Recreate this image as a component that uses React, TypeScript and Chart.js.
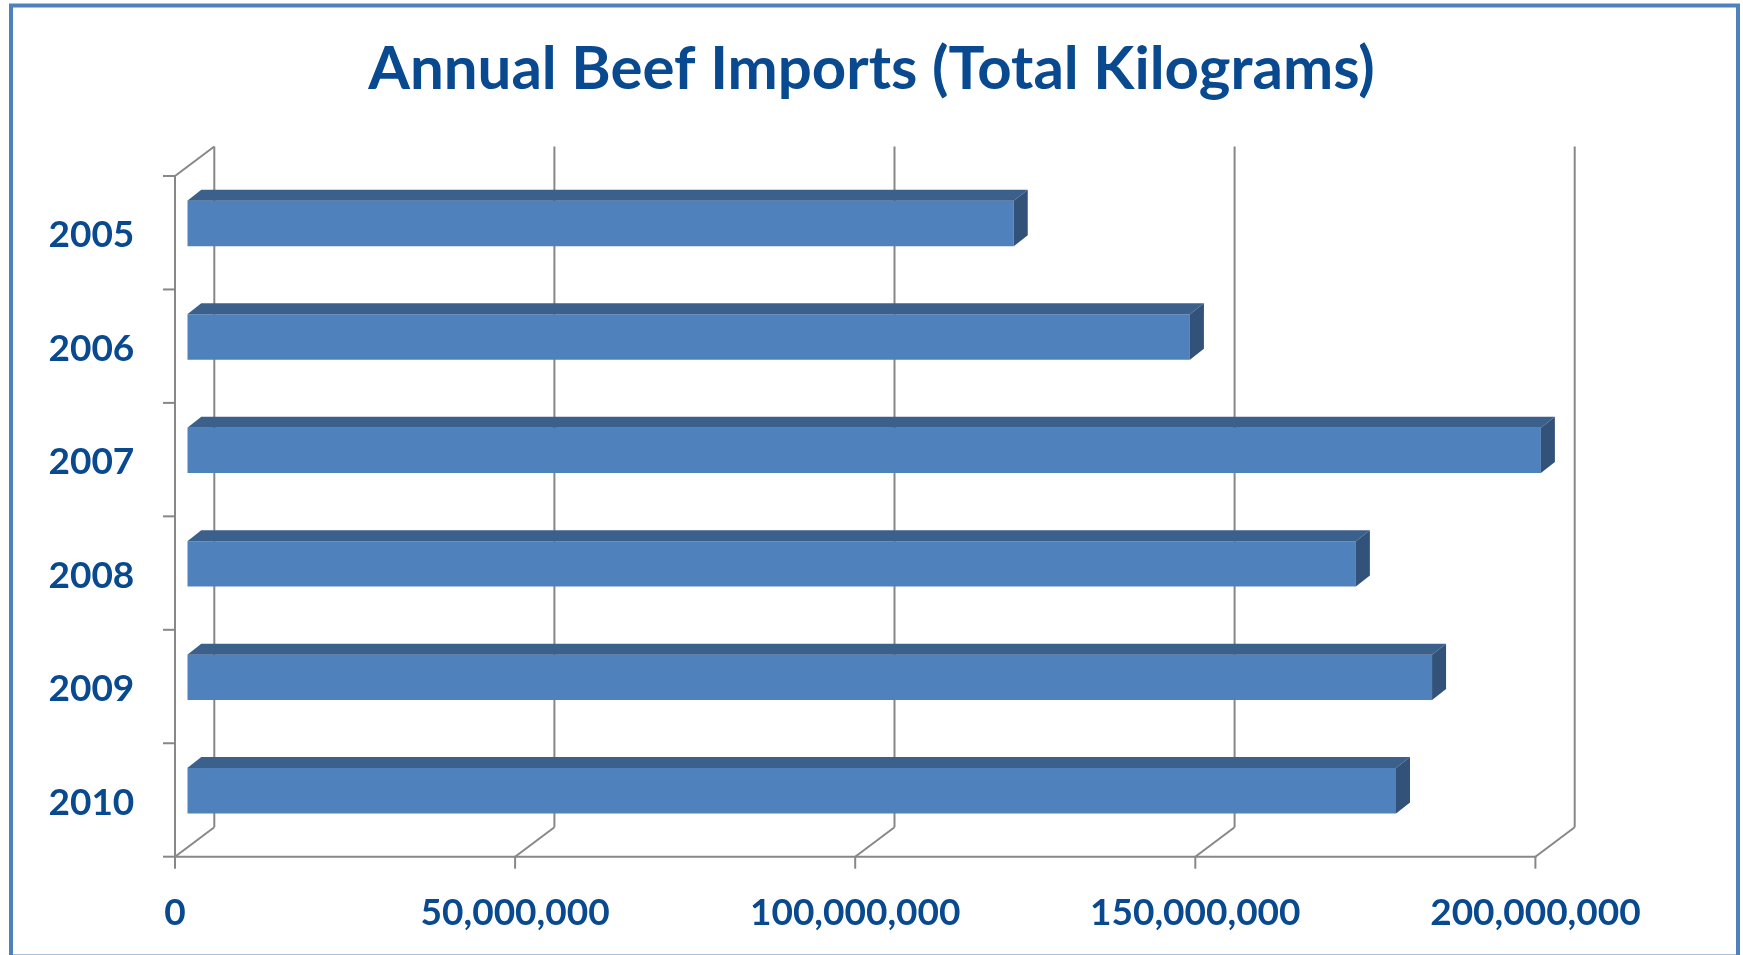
import React, { useEffect, useRef } from 'react';
import { Chart, registerables } from 'chart.js';

Chart.register(...registerables);

// ---- data ----
const years: string[] = ['2005', '2006', '2007', '2008', '2009', '2010'];
const beefImportsKg: number[] = [121500000, 147400000, 199000000, 171800000, 183000000, 177700000];
const xTickValues: number[] = [0, 50000000, 100000000, 150000000, 200000000];
const chartTitle = 'Annual Beef Imports (Total Kilograms)';

// ---- styling / geometry ----
const W = 1743;
const H = 955;
const TEXT = '#08498F';
const FONT = 'Lato';
const FRONT_DX = -12.3; // bar plane -> front plane
const FRONT_DY = 9.2;
const BACK_DX = 27; // bar plane -> back wall
const BACK_DY = -20.3;
const BAR_DX = 14; // bar depth
const BAR_DY = -11;

const excel3d = {
  id: 'excel3d',
  beforeDraw(chart: any) {
    const ctx = chart.ctx;
    ctx.save();
    ctx.fillStyle = '#ffffff';
    ctx.fillRect(0, 0, chart.width, chart.height);
    ctx.restore();
  },
  beforeDatasetsDraw(chart: any) {
    const { ctx, chartArea: a } = chart;
    const xs = chart.scales.x;
    const fb = a.bottom + FRONT_DY;
    const ft = a.top + FRONT_DY;
    const bb = a.bottom + BACK_DY;
    const bt = a.top + BACK_DY;
    ctx.save();
    ctx.strokeStyle = '#878787';
    ctx.lineWidth = 2;
    const line = (x1: number, y1: number, x2: number, y2: number) => {
      ctx.beginPath();
      ctx.moveTo(x1, y1);
      ctx.lineTo(x2, y2);
      ctx.stroke();
    };
    for (const t of xs.ticks) {
      const p = xs.getPixelForValue(t.value);
      const xf = p + FRONT_DX;
      const xb = p + BACK_DX;
      line(xb, bt, xb, bb);
      line(xf, fb, xb, bb);
      line(xf, fb, xf, fb + 12);
    }
    const x0 = xs.getPixelForValue(xs.min);
    const x1 = xs.getPixelForValue(xs.max);
    line(x0 + FRONT_DX - 1, fb, x1 + FRONT_DX + 1, fb);
    line(x0 + FRONT_DX, ft, x0 + FRONT_DX, fb);
    line(x0 + FRONT_DX, ft, x0 + BACK_DX, bt);
    const n = chart.data.labels.length;
    const band = (a.bottom - a.top) / n;
    for (let k = 0; k <= n; k++) {
      const yy = ft + k * band;
      line(x0 + FRONT_DX - 12, yy, x0 + FRONT_DX, yy);
    }
    ctx.restore();
  },
  afterDatasetsDraw(chart: any) {
    const ctx = chart.ctx;
    const meta = chart.getDatasetMeta(0);
    ctx.save();
    for (const bar of meta.data) {
      const { x, y, base, height } = bar.getProps(['x', 'y', 'base', 'height'], true);
      const top = y - height / 2;
      const bottom = y + height / 2;
      // top face
      ctx.fillStyle = '#3C608C';
      ctx.beginPath();
      ctx.moveTo(base, top);
      ctx.lineTo(base + BAR_DX, top + BAR_DY);
      ctx.lineTo(x + BAR_DX, top + BAR_DY);
      ctx.lineTo(x, top);
      ctx.closePath();
      ctx.fill();
      // side face
      ctx.fillStyle = '#32527A';
      ctx.beginPath();
      ctx.moveTo(x, top);
      ctx.lineTo(x + BAR_DX, top + BAR_DY);
      ctx.lineTo(x + BAR_DX, bottom + BAR_DY);
      ctx.lineTo(x, bottom);
      ctx.closePath();
      ctx.fill();
    }
    ctx.restore();
  },
  afterDraw(chart: any) {
    const ctx = chart.ctx;
    ctx.save();
    ctx.strokeStyle = '#4F81BD';
    ctx.lineWidth = 4;
    ctx.strokeRect(11, 5.5, 1727, 951);
    ctx.restore();
  },
};

export default function App() {
  const ref = useRef<HTMLCanvasElement | null>(null);

  useEffect(() => {
    if (!ref.current) return;
    const chart = new Chart(ref.current, {
      type: 'bar',
      data: {
        labels: years,
        datasets: [
          {
            label: 'Beef imports (kg)',
            data: beefImportsKg,
            backgroundColor: '#4F81BD',
            borderWidth: 0,
            categoryPercentage: 1,
            barPercentage: 0.4,
            xAxisID: 'x',
            yAxisID: 'y',
          },
        ],
      },
      options: {
        indexAxis: 'y',
        responsive: false,
        animation: false,
        layout: { padding: 0 },
        plugins: {
          legend: { display: false },
          tooltip: { enabled: false },
          title: {
            display: true,
            text: chartTitle,
            color: TEXT,
            font: { family: FONT, size: 60, weight: 'bold', lineHeight: 1.2 },
            padding: { top: 33.3, bottom: 61.5 },
          },
        },
        scales: {
          x: {
            type: 'linear',
            position: 'bottom',
            min: 0,
            max: 200000000,
            afterBuildTicks: (s: any) => {
              s.ticks = xTickValues.map((v) => ({ value: v }));
            },
            ticks: {
              callback: (v: any) => Number(v).toLocaleString('en-US'),
              color: TEXT,
              font: { family: FONT, size: 37, weight: 'bold', lineHeight: 1.2 },
              padding: 43,
              labelOffset: FRONT_DX,
              maxRotation: 0,
              autoSkip: false,
            },
            grid: { display: false, drawTicks: false },
            border: { display: false },
            afterFit: (s: any) => {
              s.height = 107.5;
            },
          },
          y: {
            type: 'category',
            position: 'left',
            offset: true,
            ticks: {
              color: TEXT,
              font: { family: FONT, size: 37, weight: 'bold', lineHeight: 1.2 },
              padding: 53,
              labelOffset: 12,
            },
            grid: { display: false, drawTicks: false },
            border: { display: false },
            afterFit: (s: any) => {
              s.width = 187.3;
            },
          },
          yR: {
            type: 'linear',
            position: 'right',
            display: true,
            grid: { display: false, drawTicks: false },
            border: { display: false },
            ticks: { display: false },
            afterFit: (s: any) => {
              s.width = W - 1547.7;
            },
          },
        },
      },
      plugins: [excel3d],
    } as any);
    return () => chart.destroy();
  }, []);

  return (
    <div style={{ position: 'fixed', left: 0, top: 0, width: W, height: H, background: '#fff' }}>
      <canvas ref={ref} width={W} height={H} style={{ display: 'block', width: W, height: H }} />
    </div>
  );
}
